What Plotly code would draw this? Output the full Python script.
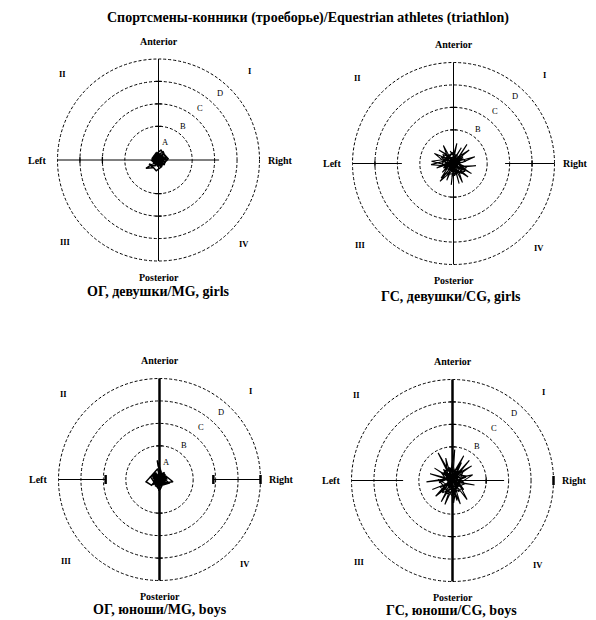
import plotly.graph_objects as go

# ---------------- data ----------------
title_text = "Спортсмены-конники (троеборье)/Equestrian athletes (triathlon)"
panel_titles = ["ОГ, девушки/MG, girls", "ГС, девушки/CG, girls",
                "ОГ, юноши/MG, boys", "ГС, юноши/CG, boys"]
ring_radii = [15, 25, 35, 45]
ring_letters = ["A", "B", "C", "D"]
quadrant_labels = ["I", "II", "III", "IV"]
direction_labels = ["Anterior", "Posterior", "Left", "Right"]

# statokinesigram traces (units: outer ring = 45)
p1_x = [0, 1.2, -0.8, 2.0, -1.5, 0.6, 2.6, -2.2, 0.3, 1.8, -1.0, -2.8, 0.9, 3.4, 1.1, -1.9, -0.4, 2.3, 4.3, 1.5,
        -0.6, -3.1, -1.2, 0.8, 2.9, 0.2, -1.6, -4.2, -2.5, -5.6, -3.3, -1.0, 1.4, 0.0, -2.0, 1.9, 3.8, 2.1, -0.3, -1.4,
        0.5, 2.4, 1.0, -0.9, -2.3, 0.4, 1.6, -0.2, -1.1, 0.7,
        1.5, -2.0, 0.5, 2.8, -1.2, -2.6, 1.8, 0.0, -1.8, 2.2, -0.6, 1.0, -2.4, 2.6, -0.2, -1.4, 1.6, 0.4, -2.8, 2.0,
        -1.0, 0.8, 2.4, -2.2, 0.2, -0.8, 1.2, -1.6, 2.8, 0.0]
p1_y = [0, -1.1, 0.9, 1.6, -0.4, 2.5, 0.3, 1.2, -2.0, -0.6, 3.2, 0.8, -1.5, 1.0, 4.4, 2.0, -0.9, 2.8, 0.6, -2.4,
        -1.3, -0.2, 1.9, -3.0, -1.2, 0.9, -2.6, -1.8, -3.4, -3.7, -2.2, -4.8, -2.9, -1.1, 0.4, 1.5, -0.5, 3.6, 2.2, -0.7,
        -1.9, 1.3, 0.2, 2.6, -1.4, -2.2, 0.6, 1.8, -0.3, 0.1,
        2.0, -1.5, -2.6, 0.5, 2.4, -0.2, -2.0, 2.8, 1.2, -1.8, -2.8, 1.6, 0.8, -0.8, 2.2, -2.4, 0.2, -1.2, -0.6, 2.6,
        1.0, -2.2, 1.4, -1.0, 0.6, 2.0, -1.6, 0.0, -2.2, 0.4]

p2_x = [0.5, 6.0, 2.5, -1.0, -7.5, -3.0, 1.5, 4.0, 1.5, -0.3, -9.8, -4.0, 2.0, 9.5, 4.0, -1.8, -4.5, -2.0,
        0.8, -6.0, -2.5, -0.5, 1.5, 0.5, 1.2, 8.0, 3.5, -2.2, -8.5, -3.5, 0.0, -1.0, -0.5, 1.8, 7.0, 3.0,
        -1.2, -5.5, -3.0, 2.5, 10.0, 4.5, -2.5, -10.0, -4.5, 0.6, 3.5, 2.0, -0.8, -3.0, -1.5, 1.0, 6.5, 3.0,
        -1.5, -6.5, -3.0, 0.2, 2.5, 0.0,
        -3.5, 4.0, -1.0, 5.5, -4.5, 2.0, -5.0, 3.0, 0.5, -2.5, 4.5, -4.0, 1.5, -5.5, 3.5, -1.5, 5.0, -3.0,
        2.5, -4.8, 0.0, 4.2, -2.0, 3.8, -5.2, 1.0, -3.2, 5.8, -0.8, 2.8]
p2_y = [0.3, 8.5, 3.0, 1.2, -2.0, -0.5, -0.8, -8.5, -3.5, -1.5, 1.0, 1.8, 1.0, 3.0, 0.5, 0.5, 8.0, 3.5,
        -2.0, -8.0, -3.5, 2.2, 9.0, 4.0, 0.2, -4.5, -2.0, -0.8, 4.5, 2.5, -1.0, -9.5, -4.5, 1.8, 6.0, 3.5,
        -2.0, -6.5, -2.5, -1.2, -1.0, -1.5, 1.5, -0.5, -1.0, 2.5, 7.0, 4.5, -0.5, -7.5, -4.0, -2.5, -6.0, -3.0,
        2.8, 6.0, 4.0, 0.0, -9.0, 0.0,
        2.5, -3.0, 5.0, 1.0, -2.0, 4.5, -4.0, 3.5, -5.5, 0.5, 2.0, -1.5, -4.5, 3.0, -1.0, 5.5, -3.5, -5.0,
        1.5, 4.0, -3.0, 3.0, -2.5, -4.5, 0.0, 5.8, 2.8, -1.8, -5.8, 2.2]

p3_x = [0, -1.0, 1.4, -2.2, 0.6, 2.5, -0.4, -3.0, 1.8, -1.5, 0.2, 3.2, -2.6, 1.0, -0.8, -6.0, -3.5, -1.2, 2.0, 6.0,
        3.0, 0.4, -1.8, 1.2, -0.6, -1.0, 0.8, 2.8, -2.0, -0.2, 1.6, -2.8, 0.0, 2.2, -1.4, 0.9, 4.2, 1.5, -0.9, -4.0,
        -1.6, 0.5, 1.9, -0.5, -2.4, 0.3, 2.6, -1.1, 0.7, 0.0,
        -1.5, 2.0, -2.5, 0.8, 3.0, -0.5, -3.2, 1.5, -1.0, 2.6, -2.0, 0.2, 3.2, -2.8, 1.0, -0.2, 2.2, -1.8, 0.6, -3.0,
        1.8, -0.8, 2.8, -2.2, 0.0, 1.2, -1.2, 2.4, -2.6, 0.4]
p3_y = [0, 1.8, -1.2, 0.4, 2.6, -0.5, -2.4, 1.0, 1.6, -1.8, 3.4, 0.9, -1.0, -3.0, 4.8, -1.0, -2.6, 0.2, -1.6, -1.0,
        1.4, -4.2, -2.8, 2.2, 6.0, 8.5, 3.2, -0.4, 2.4, -5.0, -2.0, -0.6, 1.4, 3.0, 0.6, -2.6, -1.6, 1.0, -3.6, 1.2,
        2.8, -1.4, 0.4, 2.0, -0.8, -2.2, 1.8, -0.2, -1.2, 0.0,
        2.5, -1.5, 0.5, 3.0, -0.5, -2.8, 1.8, 1.0, -2.0, 2.4, -1.2, 3.5, 0.2, -2.2, 2.8, -1.0, 3.2, 0.8, -2.6, 1.4,
        -0.4, 2.2, 1.6, -1.6, 3.8, -2.4, 0.6, -0.8, 2.0, 0.0]

p4_x = [0.5, -6.4, -2.5, -1.0, 3.5, 1.5, 1.2, -11.6, -4.5, -0.6, 8.5, 3.5, 0.8, -3.4, -1.5, -1.5, 5.0, 2.0,
        1.8, -8.0, -3.5, -0.2, 9.8, 4.5, 0.4, -7.5, -3.0, -1.8, 1.0, 0.5, 1.5, 6.5, 3.0, -0.9, -10.0, -4.0,
        2.0, 0.5, 0.5, -1.2, 4.0, 2.0, 0.0, -5.0, -2.0, 1.0, 9.0, 4.0, -2.0, -3.0, -1.5, 0.6, -9.0, -4.0,
        -0.4, 2.0, 1.0, 1.4, 7.5, 3.5, -1.6, -6.0, -2.5, 0.2,
        -4.0, 5.0, -2.0, 6.0, -5.5, 1.5, -3.5, 4.5, 0.0, -6.5, 3.0, -1.0, 5.5, -4.5, 2.5, -2.5, 6.5, -5.0,
        1.0, -3.0, 4.0, -6.0, 2.0, -1.5, 5.0, -4.0, 0.5, 3.5, -2.2, 1.2]
p4_y = [0.5, 12.3, 4.5, -1.0, -10.5, -4.0, 0.8, -0.6, 0.5, 1.5, 6.5, 3.0, -1.8, -10.7, -5.0, 0.2, 11.0, 5.0,
        -0.4, 5.5, 2.5, -0.6, -2.0, -1.0, 2.0, -7.0, -3.5, -1.5, 13.8, 6.0, 1.2, -8.5, -4.0, 0.7, 3.0, 1.0,
        -1.0, -10.0, -5.0, -2.2, 8.0, 3.5, 1.0, -9.5, -4.5, -2.5, 2.5, 1.5, 0.8, 10.0, 4.5, -0.2, -4.0, -2.0,
        -1.4, -9.0, -4.5, 2.4, 9.0, 4.0, -0.4, -5.5, -2.5, 0.3,
        3.0, -4.0, 6.0, 1.5, -3.0, -6.5, 4.5, 3.5, -7.0, 0.5, -5.0, 5.5, -1.5, -5.5, 6.5, -2.0, 2.0, 3.5,
        -4.5, -6.0, 4.8, -1.0, 2.5, -3.5, -4.0, 5.0, -6.0, 0.0, 2.2, -1.0]

traces_x = [p1_x, p2_x, p3_x, p4_x]
traces_y = [p1_y, p2_y, p3_y, p4_y]

# ---------------- layout / styling ----------------
W, H = 596, 620
FONT = "Liberation Serif"
PX_PER_UNIT = 101 / 45.0
HALF_RANGE = 60
half_px = HALF_RANGE * PX_PER_UNIT

panel_geom = [
    dict(center=(150.5, 152), vwidth=1, hsegs=[(-45, 27)], vticks=[35, 25, 15, -15, -25],
         hticks=[-35, -25], thick_hticks=[], title_pos=(150, 283), trace_w=1.5, show_a=True),
    dict(center=(445.5, 155.5), vwidth=1, hsegs=[(-45, -23), (23, 45)], vticks=[25, 15, -15],
         hticks=[-35, 35], thick_hticks=[], title_pos=(443, 289), trace_w=1.1, show_a=False),
    dict(center=(151.5, 471.5), vwidth=2.5, hsegs=[(-45, -24), (24, 45)], vticks=[15, -15, -35],
         hticks=[], thick_hticks=[-24, 24, 45], title_pos=(152, 601), trace_w=1.5, show_a=True),
    dict(center=(444.5, 472.5), vwidth=2.5, hsegs=[(-45, -22), (0, 23)], vticks=[35, 25, 15, -25],
         hticks=[15], thick_hticks=[45], title_pos=(443, 602), trace_w=1.1, show_a=False),
]

letter_pos = [(3.2, 8.0), (10.7, 15.2), (18.3, 23.2), (27.2, 30.0)]
quad_pos = [(40.6, 39.5), (-42.8, 38.2), (-41.5, -36.5), (38.3, -37.5)]
dir_pos = [(0, 53.0), (0, -52.3), (-54.0, 0), (54.5, 0)]

fig = go.Figure()
shapes = []
annotations = []
layout_axes = {}

for i, g in enumerate(panel_geom):
    s = "" if i == 0 else str(i + 1)
    xr, yr = "x" + s, "y" + s
    cx, cy = g["center"]
    layout_axes["xaxis" + s] = dict(domain=[(cx - half_px) / W, (cx + half_px) / W],
                                    range=[-HALF_RANGE, HALF_RANGE], visible=False, fixedrange=True)
    layout_axes["yaxis" + s] = dict(domain=[1 - (cy + half_px) / H, 1 - (cy - half_px) / H],
                                    range=[-HALF_RANGE, HALF_RANGE], visible=False, fixedrange=True)

    line_style = dict(color="black", width=1)
    for r in ring_radii:
        shapes.append(dict(type="circle", xref=xr, yref=yr, x0=-r, y0=-r, x1=r, y1=r, layer="below",
                           line=dict(color="black", width=1, dash="3px,2px")))
    shapes.append(dict(type="line", xref=xr, yref=yr, x0=0, x1=0, y0=-45, y1=45, layer="below",
                       line=dict(color="black", width=g["vwidth"])))
    for a, b in g["hsegs"]:
        shapes.append(dict(type="line", xref=xr, yref=yr, x0=a, x1=b, y0=0, y1=0, layer="below",
                           line=line_style))
    tl = 1.4
    for v in g["vticks"]:
        shapes.append(dict(type="line", xref=xr, yref=yr, x0=-tl, x1=tl, y0=v, y1=v, layer="below",
                           line=dict(color="black", width=1.3)))
    for v in g["hticks"]:
        shapes.append(dict(type="line", xref=xr, yref=yr, x0=v, x1=v, y0=-tl, y1=tl, layer="below",
                           line=dict(color="black", width=1.3)))
    for v in g["thick_hticks"]:
        shapes.append(dict(type="line", xref=xr, yref=yr, x0=v, x1=v, y0=-2.0, y1=2.0, layer="below",
                           line=dict(color="black", width=2.5)))

    fig.add_trace(go.Scatter(x=traces_x[i], y=traces_y[i], mode="lines", xaxis=xr, yaxis=yr,
                             line=dict(color="black", width=g["trace_w"]), showlegend=False,
                             hoverinfo="skip"))

    for k, (lbl, (lx, ly)) in enumerate(zip(ring_letters, letter_pos)):
        if k == 0 and not g["show_a"]:
            continue
        annotations.append(dict(text=lbl, x=lx, y=ly, xref=xr, yref=yr, showarrow=False,
                                font=dict(family=FONT, size=8.5, color="black")))
    for lbl, (lx, ly) in zip(quadrant_labels, quad_pos):
        annotations.append(dict(text=lbl, x=lx, y=ly, xref=xr, yref=yr, showarrow=False,
                                font=dict(family=FONT, size=8.5, color="black", weight="bold")))
    for lbl, (lx, ly) in zip(direction_labels, dir_pos):
        annotations.append(dict(text=lbl, x=lx, y=ly, xref=xr, yref=yr, showarrow=False,
                                font=dict(family=FONT, size=10, color="black", weight="bold")))
    tx, ty = g["title_pos"]
    annotations.append(dict(text=panel_titles[i], x=tx / W, y=1 - ty / H, xref="paper", yref="paper",
                            showarrow=False, xanchor="center", yanchor="middle", borderpad=0,
                            font=dict(family=FONT, size=14, color="black", weight="bold")))

annotations.append(dict(text=title_text, x=300 / W, y=1 - 10 / H, xref="paper", yref="paper",
                        showarrow=False, xanchor="center", yanchor="middle",
                        font=dict(family=FONT, size=14, color="black", weight="bold")))

fig.update_layout(width=W, height=H, autosize=False, margin=dict(l=0, r=0, t=0, b=0),
                  paper_bgcolor="white", plot_bgcolor="white",
                  shapes=shapes, annotations=annotations, **layout_axes)

fig.write_html("out.html")
